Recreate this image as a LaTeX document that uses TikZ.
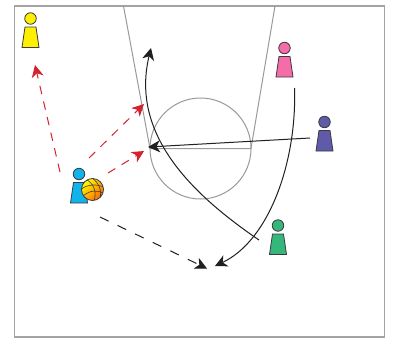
\documentclass[tikz,border=0pt]{standalone}
\usetikzlibrary{arrows.meta,shadings}
\definecolor{courtgray}{HTML}{A3A3A6}
\definecolor{lanegray}{HTML}{9A9A9A}
\definecolor{redarrow}{HTML}{D2232E}
\definecolor{inkblack}{HTML}{231F20}
\definecolor{outl}{HTML}{3A3A40}
\definecolor{pyellow}{HTML}{FFF000}
\definecolor{ppink}{HTML}{F46DA8}
\definecolor{ppurple}{HTML}{5F5BA8}
\definecolor{pgreen}{HTML}{35B77A}
\definecolor{pcyan}{HTML}{10B4EA}
\tikzset{x=1pt,y=-1pt,
  court/.style={draw=courtgray,line width=1.1pt},
  lane/.style={draw=lanegray,line width=1pt},
  pass/.style={draw=redarrow,line width=1pt,dash pattern=on 8.5pt off 7.5pt,-{Stealth[length=12pt,width=12pt,inset=3.5pt,color=redarrow]}},
  cut/.style={draw=inkblack,line width=1pt,-{Stealth[length=12pt,width=12pt,inset=3.5pt,color=inkblack]}},
  dashcut/.style={cut,dash pattern=on 9.5pt off 10pt},
  bodyline/.style={draw=outl,line width=0.8pt},
}
\newcommand{\player}[4]{%
  \fill[#4,bodyline] (#2-5.5,#3+8.5) -- (#2+5.5,#3+8.5) -- (#2+8.5,#3+29) -- (#2-8.5,#3+29) -- cycle;
  \node[circle,fill=#4,bodyline,minimum size=11.5pt,inner sep=0pt] (#1) at (#2,#3) {};
}
\begin{document}
\begin{tikzpicture}
\useasboundingbox (0,0) rectangle (393,338);
\fill[white] (0,0) rectangle (393,338);
\draw[court] (14.5,6) rectangle (384.5,337);
\coordinate (lanetl) at (123.5,6);
\coordinate (lanetr) at (275,6);
\coordinate (lanebl) at (150,148.5);
\coordinate (lanebr) at (251,148.5);
\draw[lane] (lanetl) -- (lanebl) -- (lanebr) -- (lanetr);
\draw[lane] (200.5,148.5) circle[radius=50.5];
\player{yellowp}{30.5}{18.5}{pyellow}
\player{pinkp}{284.5}{48}{ppink}
\player{bluep}{324.5}{122}{ppurple}
\player{greenp}{278}{225.5}{pgreen}
\player{cyanp}{79}{174}{pcyan}
% ball
\shade[left color=yellow,right color=orange!80!red,shading angle=45,draw=outl,line width=0.8pt] (92.5,189.5) circle[radius=11];
\begin{scope}
\clip (92.5,189.5) circle[radius=11];
\draw[outl,line width=0.6pt] (81.5,189) .. controls (88,184) and (96,184) .. (103.5,187);
\draw[outl,line width=0.6pt] (83,196) .. controls (90,190) and (97,190) .. (103.5,193);
\draw[outl,line width=0.6pt] (86,179) .. controls (94,184) and (97,192) .. (94,201);
\draw[outl,line width=0.6pt] (92,178) .. controls (99,183) and (102,190) .. (100,199);
\end{scope}
% named free ends
\coordinate (p1s) at (60,172); \coordinate (p1e) at (35,65);
\coordinate (p2s) at (89,158); \coordinate (p2e) at (144,104);
\coordinate (p3s) at (108,173); \coordinate (p3e) at (144,151);
\coordinate (d1s) at (100,217); \coordinate (d1e) at (207,268.5);
\coordinate (c1s) at (259,240); \coordinate (c1e) at (151,48);
\coordinate (c2s) at (294.5,88); \coordinate (c2e) at (215,266);
\coordinate (c3s) at (310,138); \coordinate (c3e) at (148,147);
\draw[pass] (p1s) -- (p1e);
\draw[pass] (p2s) -- (p2e);
\draw[pass] (p3s) -- (p3e);
\draw[dashcut] (d1s) -- (d1e);
\draw[cut] (c1s) .. controls (193,195) and (130,135) .. (c1e);
\draw[cut] (c2s) .. controls (297,160) and (270,240) .. (c2e);
\draw[cut] (c3s) -- (c3e);
\end{tikzpicture}
\end{document}
